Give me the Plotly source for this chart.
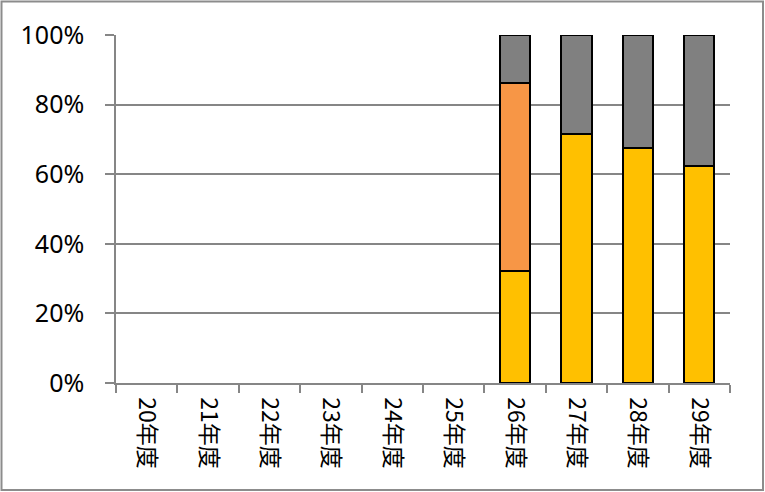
import plotly.graph_objects as go

categories = ["20年度", "21年度", "22年度", "23年度", "24年度", "25年度", "26年度", "27年度", "28年度", "29年度"]
yellow_vals = [None, None, None, None, None, None, 32.2, 71.6, 67.5, 62.3]
orange_vals = [None, None, None, None, None, None, 54.0, 0, 0, 0]
gray_vals = [None, None, None, None, None, None, 13.8, 28.4, 32.5, 37.7]
y_ticks = [0, 20, 40, 60, 80, 100]
y_tick_labels = ["0%", "20%", "40%", "60%", "80%", "100%"]

W, H = 765, 492
ml, mr, mt, mb = 116, 35, 35, 109

fig = go.Figure()
for vals, color in [(yellow_vals, "#FFC000"), (orange_vals, "#F79646"), (gray_vals, "#808080")]:
    fig.add_trace(go.Bar(
        x=categories, y=vals,
        marker=dict(color=color, line=dict(color="black", width=2)),
        hoverinfo="skip",
    ))

pw = W - ml - mr
ph = H - mt - mb
fig.add_shape(type="rect", xref="paper", yref="paper",
              x0=(1.5 - ml) / pw, x1=(W - 2 - ml) / pw,
              y0=-(H - 2 - mt - ph) / ph, y1=1 + (mt - 1.5) / ph,
              line=dict(color="#8c8c8c", width=2), layer="below")

fig.update_layout(
    width=W, height=H,
    margin=dict(l=ml, r=mr, t=mt, b=mb, autoexpand=False),
    barmode="stack", bargap=0.51,
    showlegend=False,
    paper_bgcolor="white", plot_bgcolor="white",
    font=dict(family="Noto Sans, Noto Sans CJK JP", color="black"),
    xaxis=dict(
        type="category", tickangle=90, tickson="boundaries",
        ticks="outside", ticklen=8, tickcolor="#868686", tickwidth=1.5,
        showline=True, linecolor="#868686", linewidth=1.5,
        showgrid=False, tickfont=dict(size=23, family="Noto Sans CJK JP"),
        ticklabelstandoff=8, automargin=False,
    ),
    yaxis=dict(
        range=[0, 100], tickvals=y_ticks, ticktext=y_tick_labels,
        ticks="outside", ticklen=9, tickcolor="#868686", tickwidth=1.5,
        showline=True, linecolor="#868686", linewidth=1.5,
        showgrid=True, gridcolor="#868686", gridwidth=1.5,
        zeroline=False, tickfont=dict(size=25), ticklabelstandoff=16,
        automargin=False,
    ),
)

fig.write_html("out.html", config={"displayModeBar": False},
               post_script="document.body.style.margin='0';document.body.style.overflow='hidden';")
